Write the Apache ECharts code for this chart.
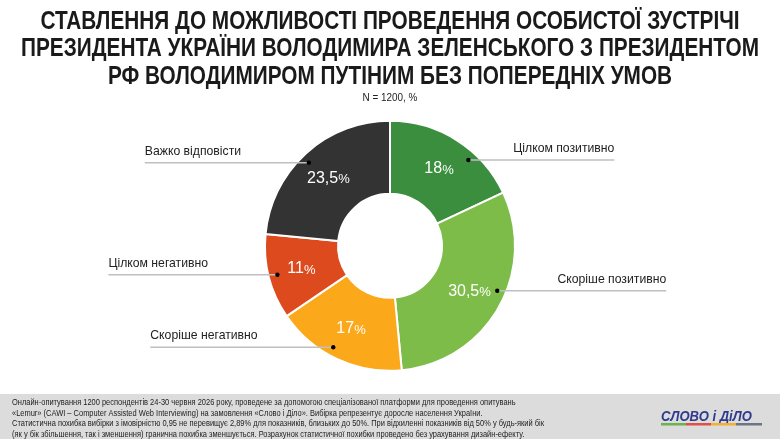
<!DOCTYPE html>
<html>
<head>
<meta charset="utf-8">
<script src="https://cdn.jsdelivr.net/npm/echarts@6/dist/echarts.min.js"></script>
<style>
  html, body { margin: 0; padding: 0; background: #fff; }
  #main { width: 780px; height: 439px; }
</style>
</head>
<body>
<div id="main"></div>
<script>
  // дані опитування
  var categories = ['Цілком позитивно', 'Скоріше позитивно', 'Скоріше негативно', 'Цілком негативно', 'Важко відповісти'];
  var values = [18, 30.5, 17, 11, 23.5];
  var colors = ['#3A8E3E', '#7EBC4A', '#FBA81A', '#DD4A1E', '#333333'];

  var titleText = 'СТАВЛЕННЯ ДО МОЖЛИВОСТІ ПРОВЕДЕННЯ ОСОБИСТОЇ ЗУСТРІЧІ\nПРЕЗИДЕНТА УКРАЇНИ ВОЛОДИМИРА ЗЕЛЕНСЬКОГО З ПРЕЗИДЕНТОМ\nРФ ВОЛОДИМИРОМ ПУТІНИМ БЕЗ ПОПЕРЕДНІХ УМОВ';
  var subText = 'N = 1200, %';
  var footerText = 'Онлайн-опитування 1200 респондентів 24-30 червня 2026 року, проведене за допомогою спеціалізованої платформи для проведення опитувань\n' +
    '«Lemur» (CAWI – Computer Assisted Web Interviewing) на замовлення «Слово і Діло». Вибірка репрезентує доросле населення України.\n' +
    'Статистична похибка вибірки з імовірністю 0,95 не перевищує 2,89% для показників, близьких до 50%. При відхиленні показників від 50% у будь-який бік\n' +
    '(як у бік збільшення, так і зменшення) гранична похибка зменшується. Розрахунок статистичної похибки проведено без урахування дизайн-ефекту.';

  // оформлення підписів (не дані)
  var R_IN = 52, R_OUT = 125;
  var lineLen = [146, 169, 183, 169, 164];
  var dotShift = [10, -7, 4, 0, -2]; // градуси
  var font = "'Liberation Sans', Arial, sans-serif";

  var myChart = echarts.init(document.getElementById('main'));
  var W = myChart.getWidth(), H = myChart.getHeight();
  var cx = W * 0.5, cy = H * 0.56;

  // точка всередині сектора, з якої йде лінія до підпису
  function dotPoint(i) {
    var total = values.reduce(function (a, b) { return a + b; }, 0);
    var before = 0;
    for (var k = 0; k < i; k++) before += values[k];
    var ang = (before + values[i] / 2) / total * Math.PI * 2 + dotShift[i] * Math.PI / 180;
    var r = R_OUT * 0.93;
    return [cx + r * Math.sin(ang), cy - r * Math.cos(ang)];
  }

  var pieData = categories.map(function (c, i) {
    return { name: c, value: values[i], itemStyle: { color: colors[i] } };
  });

  // підписи категорій з лініями-виносками
  var callouts = [];
  categories.forEach(function (c, i) {
    var p = dotPoint(i);
    var right = p[0] > cx;
    var endX = right ? p[0] + lineLen[i] : p[0] - lineLen[i];
    callouts.push({ type: 'polyline', shape: { points: [[p[0], p[1]], [endX, p[1]]] },
      style: { stroke: '#BFBFBF', lineWidth: 1.5, fill: null }, z: 99 });
    callouts.push({ type: 'circle', shape: { cx: p[0], cy: p[1], r: 2.2 }, style: { fill: '#000' }, z: 100 });
    callouts.push({ type: 'text', x: endX, y: p[1] - 5, scaleX: 0.94,
      style: { text: c, font: '13px ' + font, fill: '#222', align: right ? 'right' : 'left', verticalAlign: 'bottom' }, z: 100 });
  });

  var option = {
    animation: false,
    graphic: [{
      type: 'text', x: 390, y: 8, scaleX: 0.8,
      style: { text: titleText, font: 'bold 26px ' + font, fill: '#1a1a1a', align: 'center', lineHeight: 27.5 }
    }, {
      type: 'text', x: 390, y: 92, scaleX: 0.9,
      style: { text: subText, font: '11px ' + font, fill: '#222', align: 'center' }
    }, {
      type: 'rect', shape: { x: 0, y: 394, width: 780, height: 45 }, style: { fill: '#DCDCDC' }, z: -1
    }, {
      type: 'text', x: 12, y: 397, scaleX: 0.83,
      style: { text: footerText, font: '9px ' + font, fill: '#222', lineHeight: 10.8 }
    }, {
      type: 'text', x: 661, y: 409, scaleX: 0.87,
      style: { text: 'СЛОВО і ДіЛО', font: 'italic bold 15px ' + font, fill: '#2E3A8C' }
    }, {
      type: 'group', x: 661, y: 423,
      children: [
        { type: 'rect', shape: { x: 0, y: 0, width: 25, height: 2.5 }, style: { fill: '#6BB34B' } },
        { type: 'rect', shape: { x: 25, y: 0, width: 25, height: 2.5 }, style: { fill: '#E0504A' } },
        { type: 'rect', shape: { x: 50, y: 0, width: 25, height: 2.5 }, style: { fill: '#F2B134' } },
        { type: 'rect', shape: { x: 75, y: 0, width: 26, height: 2.5 }, style: { fill: '#6E7582' } }
      ]
    }].concat(callouts),
    series: [{
      type: 'pie',
      center: [cx, cy],
      radius: [R_IN, R_OUT],
      data: pieData,
      itemStyle: { borderColor: '#fff', borderWidth: 2 },
      label: {
        position: 'inside',
        formatter: function (p) { return '{v|' + String(p.value).replace('.', ',') + '}{p|%}'; },
        rich: {
          v: { fontFamily: font, fontSize: 16, color: '#fff' },
          p: { fontFamily: font, fontSize: 13, color: '#fff', padding: [3, 0, 0, 0] }
        }
      },
      labelLine: { show: false },
      silent: true
    }]
  };
  myChart.setOption(option);
</script>
</body>
</html>
